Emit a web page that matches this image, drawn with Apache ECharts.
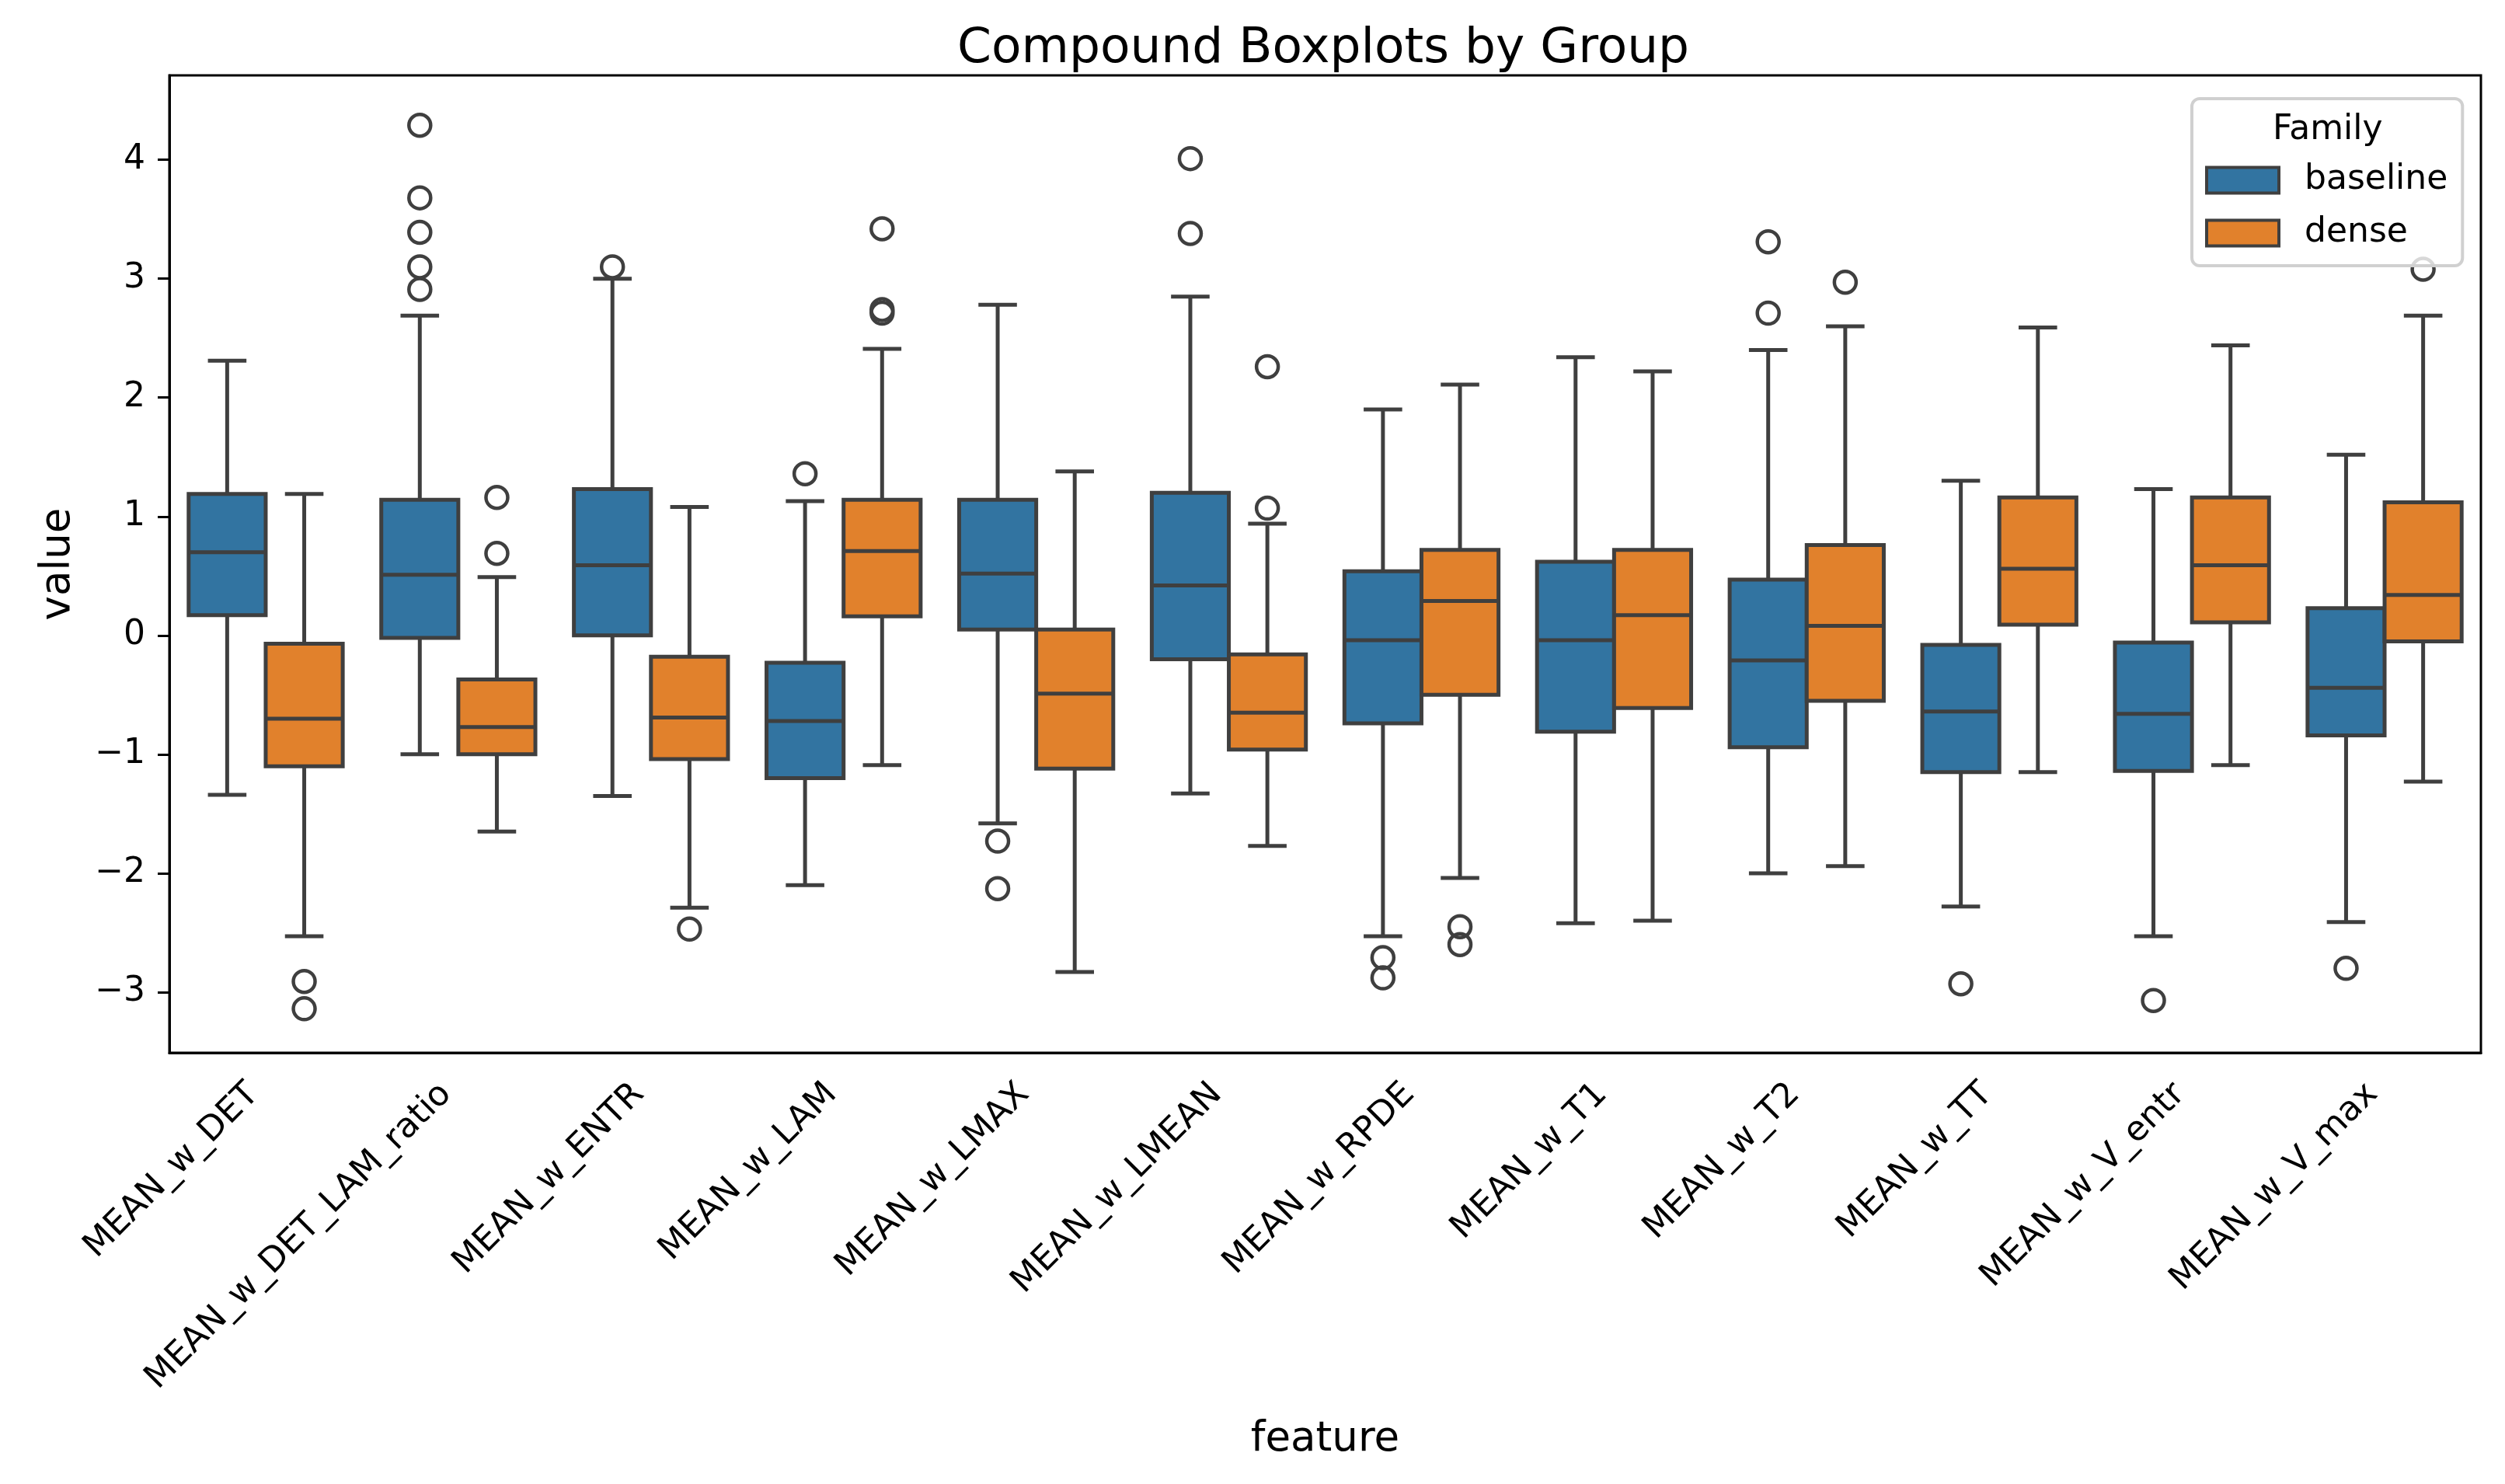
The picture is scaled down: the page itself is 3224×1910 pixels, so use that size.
<!DOCTYPE html>
<html>
<head>
<meta charset="utf-8" />
<title>Compound Boxplots by Group</title>
<script src="https://cdn.jsdelivr.net/npm/echarts@6/dist/echarts.min.js"></script>
<style>html,body{margin:0;padding:0;background:#fff;}</style>
</head>
<body>
<div id="chart" style="width:3224px;height:1910px;"></div>
<script>
var features = ['MEAN_w_DET', 'MEAN_w_DET_LAM_ratio', 'MEAN_w_ENTR', 'MEAN_w_LAM', 'MEAN_w_LMAX', 'MEAN_w_LMEAN',
    'MEAN_w_RPDE', 'MEAN_w_T1', 'MEAN_w_T2', 'MEAN_w_TT', 'MEAN_w_V_entr', 'MEAN_w_V_max'];
var families = ['baseline', 'dense'];
var yTicks = [-3, -2, -1, 0, 1, 2, 3, 4];

// [lower whisker, q1, median, q3, upper whisker]
var baselineStats = [
    [-1.34, 0.17, 0.70, 1.19, 2.31],
    [-1.00, -0.02, 0.51, 1.14, 2.69],
    [-1.35, 0.00, 0.59, 1.23, 3.00],
    [-2.10, -1.20, -0.72, -0.23, 1.13],
    [-1.58, 0.05, 0.52, 1.14, 2.78],
    [-1.33, -0.20, 0.42, 1.20, 2.85],
    [-2.53, -0.74, -0.04, 0.54, 1.90],
    [-2.42, -0.81, -0.04, 0.62, 2.34],
    [-2.00, -0.94, -0.21, 0.47, 2.40],
    [-2.28, -1.15, -0.64, -0.08, 1.30],
    [-2.53, -1.14, -0.66, -0.06, 1.23],
    [-2.41, -0.84, -0.44, 0.23, 1.52]
];
var denseStats = [
    [-2.53, -1.10, -0.70, -0.07, 1.19],
    [-1.65, -1.00, -0.77, -0.37, 0.49],
    [-2.29, -1.04, -0.69, -0.18, 1.08],
    [-1.09, 0.16, 0.71, 1.14, 2.41],
    [-2.83, -1.12, -0.49, 0.05, 1.38],
    [-1.77, -0.96, -0.65, -0.16, 0.94],
    [-2.04, -0.50, 0.29, 0.72, 2.11],
    [-2.40, -0.61, 0.17, 0.72, 2.22],
    [-1.94, -0.55, 0.08, 0.76, 2.60],
    [-1.15, 0.09, 0.56, 1.16, 2.59],
    [-1.09, 0.11, 0.59, 1.16, 2.44],
    [-1.23, -0.05, 0.34, 1.12, 2.69]
];
var baselineOutliers = [
    [],
    [4.29, 3.68, 3.39, 3.10, 2.91],
    [3.10],
    [1.36],
    [-1.73, -2.13],
    [4.01, 3.38],
    [-2.71, -2.88],
    [],
    [3.31, 2.71],
    [-2.93],
    [-3.07],
    [-2.80]
];
var denseOutliers = [
    [-2.91, -3.14],
    [1.16, 0.69],
    [-2.47],
    [3.42, 2.74, 2.71],
    [],
    [2.26, 1.07],
    [-2.45, -2.60],
    [],
    [2.97],
    [],
    [],
    [3.08]
];

var LINE = '#3f3f3f';
var FONT = 'DejaVu Sans';
var colors = ['#3274a1', '#e1812c'];

function toRows(stats) {
    return stats.map(function (s, i) { return [i].concat(s); });
}

// draws one seaborn-like box; side -1 = left half of the band, +1 = right half
function makeRender(outliers, side, fill) {
    return function (params, api) {
        var i = api.value(0);
        var band = api.size([1, 0])[0];
        var w = band * 0.4;
        var cx = api.coord([i, 0])[0] + side * w / 2;
        var y = function (v) { return api.coord([i, v])[1]; };
        var lo = y(api.value(1)), q1 = y(api.value(2)), med = y(api.value(3)),
            q3 = y(api.value(4)), hi = y(api.value(5));
        var ls = { stroke: LINE, lineWidth: 5 };
        var kids = [
            { type: 'line', shape: { x1: cx, y1: q1, x2: cx, y2: lo }, style: ls },
            { type: 'line', shape: { x1: cx, y1: q3, x2: cx, y2: hi }, style: ls },
            { type: 'line', shape: { x1: cx - w / 4, y1: lo, x2: cx + w / 4, y2: lo }, style: ls },
            { type: 'line', shape: { x1: cx - w / 4, y1: hi, x2: cx + w / 4, y2: hi }, style: ls },
            { type: 'rect', shape: { x: cx - w / 2, y: q3, width: w, height: q1 - q3 },
              style: { fill: fill, stroke: LINE, lineWidth: 5 } },
            { type: 'line', shape: { x1: cx - w / 2, y1: med, x2: cx + w / 2, y2: med }, style: ls }
        ];
        outliers[params.dataIndex].forEach(function (v) {
            kids.push({ type: 'circle', shape: { cx: cx, cy: y(v), r: 14 },
                style: { fill: 'none', stroke: LINE, lineWidth: 4.5 } });
        });
        return { type: 'group', children: kids };
    };
}

var myChart = echarts.init(document.getElementById('chart'));
var option = {
    backgroundColor: '#fff',
    textStyle: { fontFamily: FONT },
    title: [{
        text: 'Compound Boxplots by Group',
        left: 1232, top: 32, padding: 0,
        textStyle: { fontFamily: FONT, fontSize: 63, fontWeight: 'normal', color: '#000' }
    }, {
        text: 'Family',
        left: 2925, top: 146, padding: 0,
        textStyle: { fontFamily: FONT, fontSize: 44, fontWeight: 'normal', color: '#000' }
    }],
    legend: {
        orient: 'vertical',
        left: 2821, top: 127,
        padding: [83, 19, 20, 17],
        itemWidth: 93, itemHeight: 33, itemGap: 24,
        backgroundColor: 'rgba(255,255,255,0.8)',
        borderColor: '#d0d0d0', borderWidth: 4, borderRadius: 10,
        textStyle: { fontFamily: FONT, fontSize: 44, color: '#000', padding: [0, 0, 0, 28] },
        data: families.map(function (f, k) {
            return { name: f, icon: 'rect',
                itemStyle: { color: colors[k], borderColor: LINE, borderWidth: 4 } };
        })
    },
    grid: {
        left: 218, right: 31, top: 97, bottom: 555,
        show: true, borderColor: '#000', borderWidth: 3,
        containLabel: false, outerBoundsMode: 'none'
    },
    xAxis: {
        type: 'category',
        data: features,
        name: 'feature',
        nameLocation: 'middle',
        nameGap: 472,
        nameTextStyle: { fontFamily: FONT, fontSize: 53, color: '#000' },
        axisLine: { onZero: false, lineStyle: { color: '#000', width: 3 } },
        axisTick: { alignWithLabel: true, length: 15, lineStyle: { color: '#000', width: 3 } },
        axisLabel: { rotate: 45, margin: 31, padding: [0, 22, 0, 0], fontFamily: FONT, fontSize: 44, color: '#000', interval: 0 },
        splitLine: { show: false }
    },
    yAxis: {
        type: 'value',
        min: -3.51, max: 4.71,
        name: 'value',
        nameLocation: 'middle',
        nameGap: 116,
        nameTextStyle: { fontFamily: FONT, fontSize: 53, color: '#000' },
        axisLine: { show: true, onZero: false, lineStyle: { color: '#000', width: 3 } },
        axisTick: { show: true, length: 15, customValues: yTicks, lineStyle: { color: '#000', width: 3 } },
        axisLabel: {
            customValues: yTicks, margin: 31, fontFamily: FONT, fontSize: 44, color: '#000',
            formatter: function (v) { return String(v).replace('-', '\u2212'); }
        },
        splitLine: { show: false }
    },
    series: [{
        name: 'baseline',
        type: 'custom',
        itemStyle: { color: colors[0] },
        encode: { x: 0, y: [1, 2, 3, 4, 5] },
        renderItem: makeRender(baselineOutliers, -1, colors[0]),
        data: toRows(baselineStats)
    }, {
        name: 'dense',
        type: 'custom',
        itemStyle: { color: colors[1] },
        encode: { x: 0, y: [1, 2, 3, 4, 5] },
        renderItem: makeRender(denseOutliers, 1, colors[1]),
        data: toRows(denseStats)
    }]
};
myChart.setOption(option);
</script>
</body>
</html>
